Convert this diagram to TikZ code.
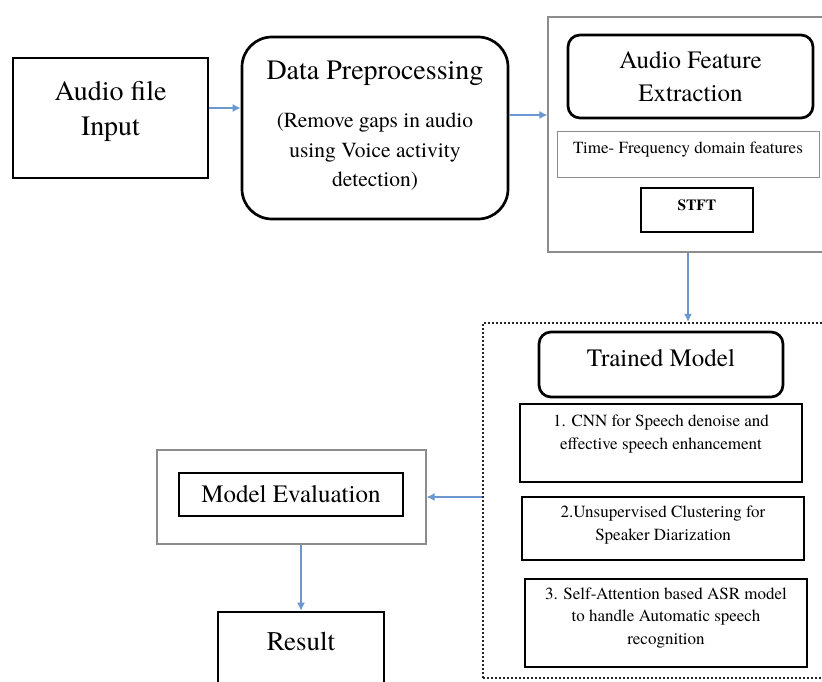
\documentclass[tikz,border=0pt]{standalone}
\usepackage{fontspec}
\setmainfont{TeX Gyre Termes}
\usetikzlibrary{arrows.meta,calc}
\definecolor{flowblue}{HTML}{6B96CF}
\definecolor{framegray}{HTML}{8C8C8C}
\newcommand{\fs}[2]{\fontsize{#1}{#2}\selectfont}
\tikzset{solidbox/.style={draw,line width=2.7pt,inner sep=0pt},
 roundbox/.style={solidbox,rounded corners=12pt},
 frame/.style={draw=framegray,line width=1.2pt,inner sep=0pt},
 dotbox/.style={draw=black!85,line width=2.2pt,dash pattern=on 2pt off 2pt,inner sep=0pt},
 txt/.style={align=center,inner sep=0pt},
 flow/.style={-{Latex[length=8pt,width=8pt]},draw=flowblue,line width=1.3pt}}

\begin{document}
\begin{tikzpicture}[x=1pt,y=-1pt]
\clip (0,0) rectangle (822,682);
\fill[white] (0,0) rectangle (822,682);
% input and preprocessing
\node[solidbox,minimum width=195,minimum height=120] (input) at (110.5,118) {};
\node[txt,font=\fs{28}{35}] (inputtxt) at (110.5,111) {Audio file\\Input};
\node[roundbox,rounded corners=30pt,minimum width=266,minimum height=182] (prep) at (375,128) {};
\node[txt,font=\fs{28}{32}] (preptitle) at (375,73) {Data Preprocessing};
\node[txt,font=\fs{21.5}{29.5}] (prepbody) at (375,152)
 {(Remove gaps in audio\\using Voice activity\\detection)};
% feature extraction
\node[frame,minimum width=280,minimum height=235] (feat) at (688,134.5) {};
\node[roundbox,minimum width=245,minimum height=83,align=center,font=\fs{25}{33}] (afe) at (690.5,76.5)
 {Audio Feature\\Extraction};
\node[frame,line width=1pt,minimum width=262,minimum height=45] (tf) at (688,154.5) {};
\node[txt,font=\fs{17}{20}] (tftxt) at (688,150) {Time- Frequency domain features};
\node[solidbox,minimum width=112,minimum height=44] (stft) at (697,210) {};
\node[txt,font=\fs{15.5}{18}\bfseries] (stfttxt) at (697,205) {STFT};
% trained model
\node[dotbox,minimum width=410,minimum height=355] (model) at (688,500.5) {};
\node[roundbox,minimum width=244,minimum height=65] (trained) at (661,364.5) {};
\node[txt,font=\fs{25}{30}] (trainedtxt) at (661,358) {Trained Model};
\node[solidbox,line width=2.9pt,minimum width=282,minimum height=78] (cnn) at (661,443) {};
\node[txt,font=\fs{17}{23}] (cnntxt) at (661,434)
 {1. CNN for Speech denoise and\\effective speech enhancement};
\node[solidbox,line width=2.9pt,minimum width=282,minimum height=63] (clust) at (663,528.5) {};
\node[txt,font=\fs{17}{23}] (clusttxt) at (663,525)
 {2.Unsupervised Clustering for\\Speaker Diarization};
\node[solidbox,line width=2.9pt,minimum width=282,minimum height=88] (asr) at (666,623) {};
\node[txt,font=\fs{17}{22.5}] (asrtxt) at (666,618)
 {3. Self-Attention based ASR model\\to handle Automatic speech\\recognition};
% evaluation and result
\node[frame,minimum width=269,minimum height=94] (eval) at (291.5,497) {};
\node[solidbox,minimum width=224,minimum height=43,font=\fs{25}{28}] (evalin) at (291,494.5) {Model Evaluation};
\node[solidbox,minimum width=166,minimum height=120] (result) at (301,672) {};
\node[txt,font=\fs{27}{30}] (resulttxt) at (301,641) {Result};
% connectors
\draw[flow] ([yshift=10pt]input.east) -- ([yshift=10pt]input.east -| prep.west);
\draw[flow] ([yshift=13pt]prep.east) -- ([yshift=13pt]prep.east -| feat.west);
\draw[flow] (feat.south) -- (model.north);
\draw[flow] (model.west |- eval.east) -- (eval.east);
\draw[flow] (eval.south -| result.north) -- (result.north);
\end{tikzpicture}
\end{document}
